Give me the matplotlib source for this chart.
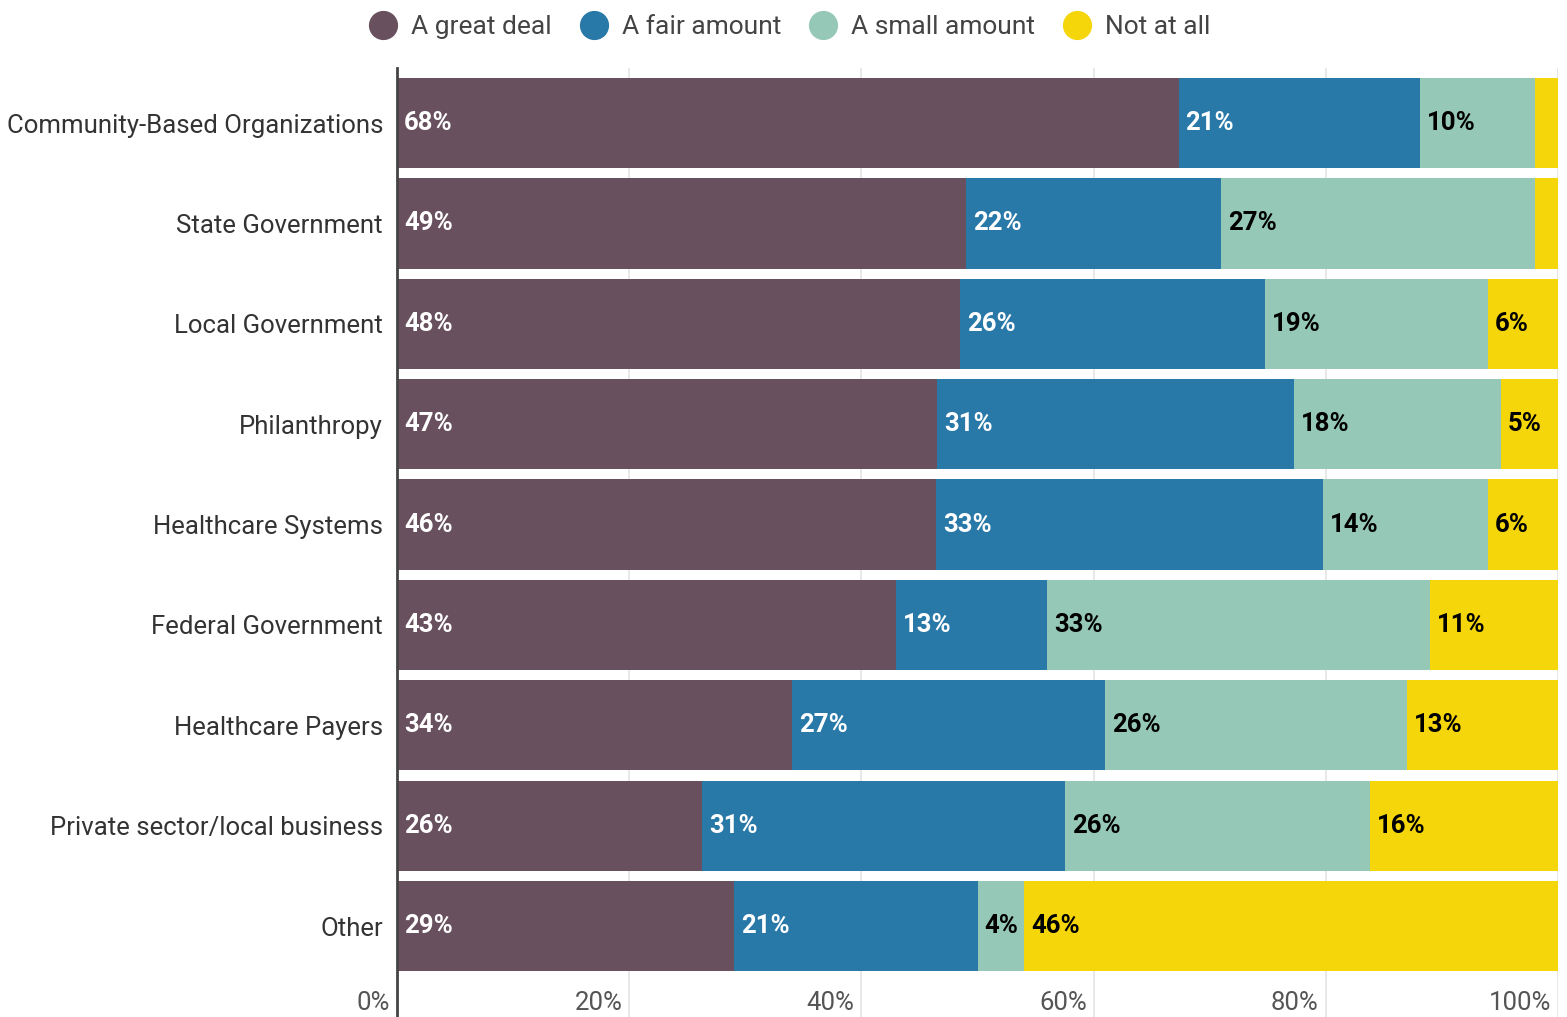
import matplotlib.pyplot as plt
import matplotlib.transforms as mtransforms
from matplotlib.lines import Line2D
import numpy as np

plt.rcParams['font.family'] = ['Roboto', 'DejaVu Sans']

categories = ['Community-Based Organizations', 'State Government', 'Local Government',
              'Philanthropy', 'Healthcare Systems', 'Federal Government',
              'Healthcare Payers', 'Private sector/local business', 'Other']
series = ['A great deal', 'A fair amount', 'A small amount', 'Not at all']
great_deal = [68, 49, 48, 47, 46, 43, 34, 26, 29]
fair_amount = [21, 22, 26, 31, 33, 13, 27, 31, 21]
small_amount = [10, 27, 19, 18, 14, 33, 26, 26, 4]
not_at_all = [2, 2, 6, 5, 6, 11, 13, 16, 46]
colors = ['#68505e', '#2878a8', '#96c8b7', '#f5d60a']
text_colors = ['white', 'white', 'black', 'black']
x_ticks = [0, 20, 40, 60, 80, 100]

values = np.array([great_deal, fair_amount, small_amount, not_at_all], dtype=float)
shares = values / values.sum(axis=0) * 100  # 100% stacked

fig = plt.figure(figsize=(15.67, 10.17), dpi=100)
ax = fig.add_axes([397 / 1567, 0, 1161 / 1567, 949 / 1017])

y = np.arange(len(categories))
left = np.zeros(len(categories))
for i, name in enumerate(series):
    ax.barh(y, shares[i], left=left, height=0.9, color=colors[i], zorder=2)
    for j in range(len(categories)):
        if values[i, j] >= 3:
            ax.annotate(f'{int(values[i, j])}%', (left[j], y[j]), xytext=(5, 0),
                        textcoords='offset points', ha='left', va='center',
                        fontsize=18.5, fontweight='bold', color=text_colors[i], zorder=3)
    left += shares[i]

ax.set_xlim(0, 100)
ax.set_ylim(8.906, -0.548)
ax.set_yticks(y)
ax.set_yticklabels(categories, fontsize=18.5, color='#333333')
ax.tick_params(axis='y', length=0, pad=10)
ax.set_xticks(x_ticks)
ax.set_xticklabels([])
ax.tick_params(axis='x', length=0)
ax.grid(axis='x', color='#e4e4e4', linewidth=1.2, zorder=0)

for s in ['top', 'right', 'bottom']:
    ax.spines[s].set_visible(False)
ax.spines['left'].set_color('#444444')
ax.spines['left'].set_linewidth(2)
ax.spines['left'].set_zorder(4)

# x tick labels sit inside the axes, right-aligned just left of each gridline
trans = mtransforms.blended_transform_factory(ax.transData, ax.transAxes)
trans = mtransforms.offset_copy(trans, fig=fig, x=-5, y=-1, units='points')
for t in x_ticks:
    ax.text(t, 0.016, f'{t}%', transform=trans, ha='right', va='center',
            fontsize=18.5, color='#555555')

handles = [Line2D([], [], marker='o', linestyle='', markersize=20,
                  markerfacecolor=c, markeredgecolor=c) for c in colors]
fig.legend(handles, series, loc='center', bbox_to_anchor=(0.5, 1 - 27 / 1017),
           ncol=4, frameon=False, fontsize=19, handletextpad=0.05,
           columnspacing=0.6, labelcolor='#444444')

fig.savefig('out.png', dpi=100)
